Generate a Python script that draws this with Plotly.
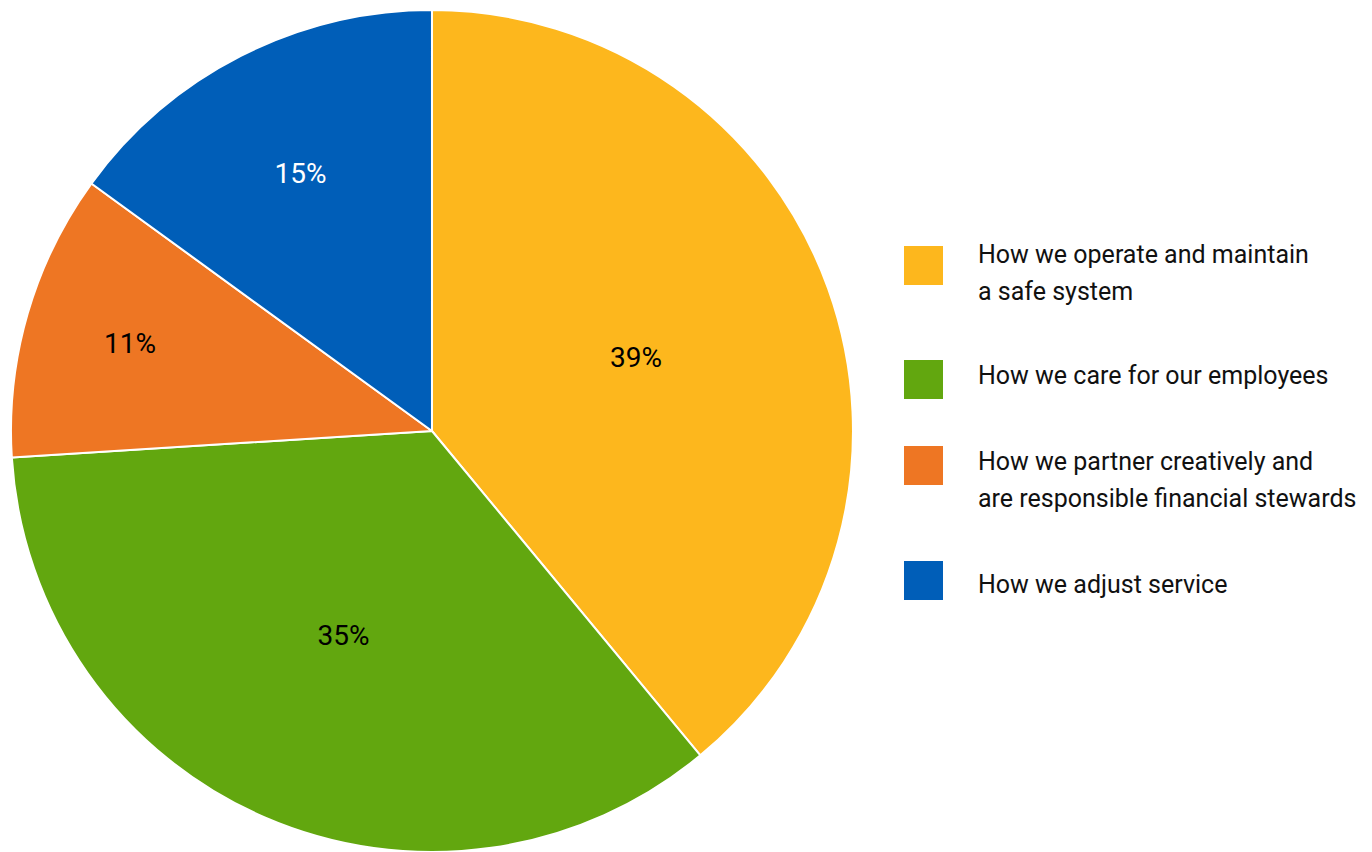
import plotly.graph_objects as go

labels = [
    "How we operate and maintain<br>a safe system",
    "How we care for our employees",
    "How we partner creatively and<br>are responsible financial stewards",
    "How we adjust service",
]
values = [39, 35, 11, 15]
colors = ["#FDB71D", "#62A70F", "#EE7623", "#005EB8"]
text_colors = ["#000000", "#000000", "#000000", "#FFFFFF"]

FONT = "Roboto, sans-serif"

fig = go.Figure()
fig.add_trace(go.Pie(
    labels=labels,
    values=values,
    sort=False,
    direction="clockwise",
    rotation=0,
    marker=dict(colors=colors, line=dict(color="#FFFFFF", width=2)),
    texttemplate="%{value}%",
    textposition="inside",
    insidetextorientation="horizontal",
    insidetextfont=dict(family=FONT, size=28, color=text_colors),
    domain=dict(x=[0.008, 0.6217], y=[0, 1]),
    showlegend=False,
    hoverinfo="label+percent",
))

# custom legend (pixel layout)
W, H = 1372, 852
TOP = 10
PH = 842


def py(p):
    return 1 - (p - TOP) / PH


square_tops = [246, 360, 446, 561]
line_centers = [[253, 290], [374], [460, 497], [583]]
for lab, col, top, centers in zip(labels, colors, square_tops, line_centers):
    fig.add_shape(type="rect", xref="paper", yref="paper",
                  x0=904 / W, x1=943 / W, y0=py(top), y1=py(top + 39),
                  fillcolor=col, line=dict(width=0))
    for line, c in zip(lab.split("<br>"), centers):
        fig.add_annotation(xref="paper", yref="paper", x=976 / W, y=py(c + 1),
                           xanchor="left", yanchor="middle", align="left",
                           showarrow=False, text=line,
                           font=dict(family=FONT, size=25, color="#111111"))

fig.update_layout(
    width=W, height=H,
    margin=dict(l=0, r=0, t=TOP, b=0),
    paper_bgcolor="#FFFFFF",
    plot_bgcolor="#FFFFFF",
)
fig.write_html("out.html")
